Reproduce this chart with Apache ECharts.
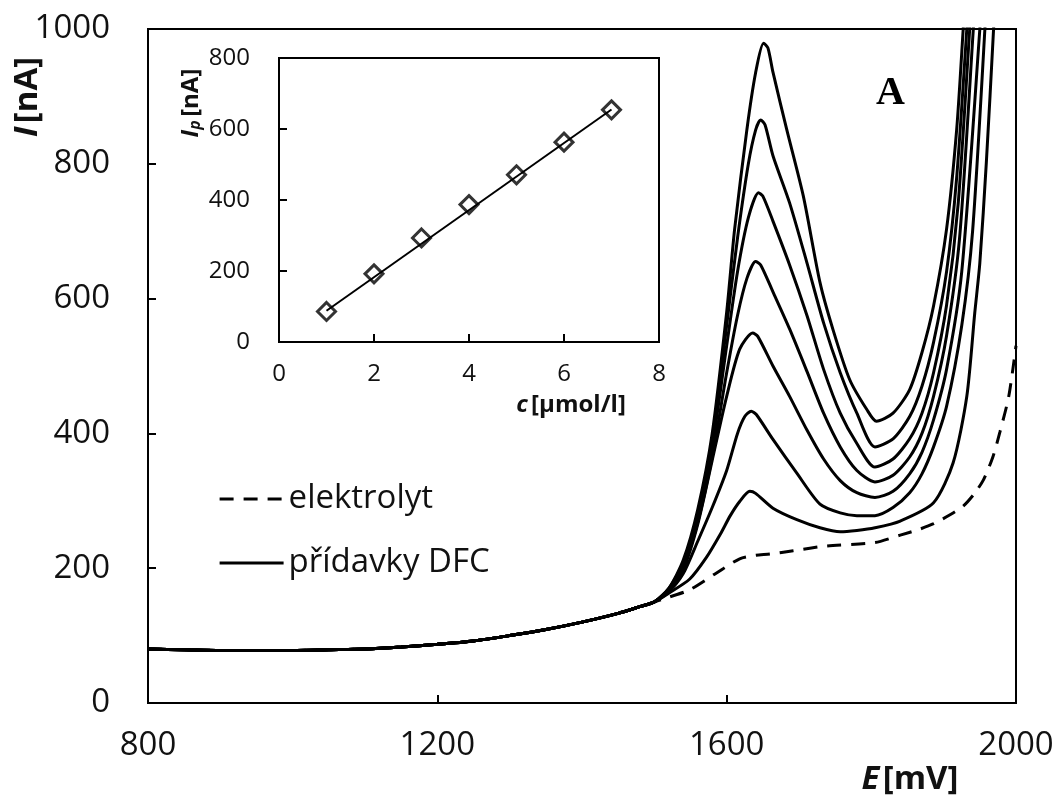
<!DOCTYPE html>
<html><head><meta charset="utf-8">
<script src="https://cdn.jsdelivr.net/npm/echarts@6/dist/echarts.min.js"></script>
<style>html,body{margin:0;padding:0;background:#fff}#c{width:1059px;height:801px}</style>
</head><body><div id="c"></div>
<script>
// ---------- data ----------
// common baseline before the curves split (E [mV], I [nA])
const baseE = [800, 850, 900, 950, 1000, 1050, 1100, 1150, 1200, 1250, 1300, 1350, 1400, 1450, 1480, 1500];
const baseI = [80, 79, 78, 78, 78, 79, 80, 83, 87, 92, 100, 109, 120, 133, 143, 150];

// electrolyte (dashed) after 1500 mV
const elektrolytTail = [[1520,157],[1549,168],[1586,193],[1618,214],[1640,219],[1660,221],[1692,226],[1738,233],[1805,238],[1840,249],[1867,258],[1886,266],[1910,280],[1927,292],[1942,310],[1955,331],[1968,365],[1978,403],[1990,455],[2000,530]];

// DFC additions (solid), highest concentration first, after 1500 mV
const dfc1 = [[1520,170],[1540,212],[1560,287],[1580,400],[1600,580],[1611,703],[1628,851],[1640,935],[1651,979],[1657,972],[1664,936],[1683,851],[1706,752],[1729,624],[1747,554],[1770,480],[1794,435],[1807,418],[1830,430],[1853,465],[1870,520],[1886,589],[1904,703],[1918,851],[1927,1000],[1932,1090]];
const dfc2 = [[1520,170],[1540,208],[1560,280],[1580,390],[1600,560],[1615,690],[1630,800],[1640,850],[1647,865],[1653,858],[1664,812],[1687,742],[1711,653],[1734,564],[1757,490],[1780,430],[1805,380],[1830,392],[1853,425],[1870,470],[1886,535],[1904,640],[1918,780],[1932,1000],[1937,1090]];
const dfc3 = [[1520,168],[1540,205],[1560,275],[1580,380],[1600,530],[1615,640],[1630,720],[1644,757],[1650,752],[1664,715],[1687,650],[1711,575],[1734,495],[1757,430],[1780,385],[1805,350],[1830,362],[1853,392],[1870,430],[1886,490],[1904,590],[1920,740],[1936,1000],[1941,1090]];
const dfc4 = [[1520,167],[1540,202],[1560,268],[1580,365],[1600,490],[1615,575],[1628,630],[1640,655],[1647,650],[1664,610],[1687,555],[1711,492],[1734,430],[1757,380],[1780,345],[1805,328],[1830,338],[1853,365],[1870,400],[1886,455],[1904,545],[1922,690],[1941,1000],[1946,1090]];
const dfc5 = [[1520,166],[1540,198],[1560,265],[1580,360],[1600,455],[1618,525],[1636,549],[1643,544],[1664,500],[1687,455],[1711,405],[1734,362],[1757,330],[1780,312],[1805,305],[1830,314],[1853,340],[1870,372],[1886,420],[1904,495],[1925,640],[1950,1000],[1955,1090]];
const dfc6 = [[1520,165],[1540,192],[1560,240],[1580,290],[1600,345],[1615,400],[1625,425],[1634,433],[1641,428],[1664,391],[1697,341],[1729,295],[1757,282],[1780,278],[1805,278],[1830,290],[1853,312],[1870,340],[1886,380],[1904,440],[1925,560],[1940,700],[1957,1000],[1961,1090]];
const dfc7 = [[1520,163],[1549,184],[1572,216],[1591,250],[1605,278],[1618,299],[1632,314],[1640,311],[1664,289],[1697,272],[1729,260],[1757,254],[1780,256],[1805,260],[1840,270],[1886,297],[1913,356],[1932,455],[1943,579],[1950,653],[1959,802],[1969,1000],[1973,1090]];
const dfcCurves = [dfc1, dfc2, dfc3, dfc4, dfc5, dfc6, dfc7];

// inset calibration
const concC = [1, 2, 3, 4, 5, 6, 7];
const peakIp = [86, 192, 293, 387, 471, 563, 654];
const fitLine = [[1, 88], [7, 655]];

// axis ticks
const mainX = {min: 800, max: 2000, step: 400};
const mainY = {min: 0, max: 1000, step: 200};
const insetX = {min: 0, max: 8, step: 2};
const insetY = {min: 0, max: 800, step: 200};

// ---------- chart ----------
const FONT = '"Open Sans", "Noto Sans", sans-serif';
const base = baseE.map((e, i) => [e, baseI[i]]);
const black = '#000';

function valAxis(ax, gi, fs, margin) {
  return {
    type: 'value', gridIndex: gi, min: ax.min, max: ax.max, interval: ax.step,
    axisLine: {show: true, onZero: false, lineStyle: {color: black, width: 2}},
    axisTick: {show: true, inside: true, length: 8, lineStyle: {color: black, width: 2}},
    splitLine: {show: false},
    axisLabel: {fontSize: fs, color: '#111', fontFamily: FONT, margin: margin, formatter: v => String(v)}
  };
}

const series = [];
series.push({
  name: 'elektrolyt', type: 'line', xAxisIndex: 0, yAxisIndex: 0,
  data: base.concat(elektrolytTail), showSymbol: false, symbol: 'none',
  smooth: 0.25,
  lineStyle: {color: black, width: 3, type: [14, 10]}, itemStyle: {color: black}
});
dfcCurves.forEach(c => series.push({
  name: 'přídavky DFC', type: 'line', xAxisIndex: 0, yAxisIndex: 0,
  data: base.concat(c), showSymbol: false, symbol: 'none',
  smooth: 0.25,
  lineStyle: {color: black, width: 3, type: 'solid'}, itemStyle: {color: black}
}));
series.push({
  type: 'line', xAxisIndex: 1, yAxisIndex: 1, data: fitLine, symbol: 'none',
  lineStyle: {color: black, width: 2}, silent: true
});
series.push({
  type: 'scatter', xAxisIndex: 1, yAxisIndex: 1,
  data: concC.map((c, i) => [c, peakIp[i]]),
  symbol: 'diamond', symbolSize: 18,
  itemStyle: {color: '#fff', borderColor: black, borderWidth: 3}
});

const chart = echarts.init(document.getElementById('c'), null, {renderer: 'canvas'});
chart.setOption({
  animation: false,
  backgroundColor: '#fff',
  grid: [
    {left: 148, right: 43, top: 29, bottom: 98, show: true, borderColor: black, borderWidth: 2, backgroundColor: 'transparent'},
    {left: 279, top: 58, width: 380, height: 284, show: true, borderColor: black, borderWidth: 2, backgroundColor: '#fff'}
  ],
  xAxis: [valAxis(mainX, 0, 33, 26), valAxis(insetX, 1, 24, 20)],
  yAxis: [valAxis(mainY, 0, 33, 38), valAxis(insetY, 1, 24, 29)],
  legend: {
    orient: 'vertical', left: 213, top: 474, itemWidth: 64, itemHeight: 14, itemGap: 24,
    data: ['elektrolyt', 'přídavky DFC'],
    itemStyle: {opacity: 0},
    lineStyle: {width: 3.2},
    textStyle: {fontSize: 33, fontFamily: FONT, color: '#111', lineHeight: 40}
  },
  graphic: [
    {type: 'text', x: 876, y: 74, style: {text: 'A', font: 'bold 40px "Liberation Serif", serif', fill: black}},
    {type: 'text', x: 910, y: 780, style: {
      text: '{i|E} {b|[mV]}', align: 'center', verticalAlign: 'middle',
      rich: {i: {fontFamily: FONT, fontSize: 33, fontWeight: 'bold', fontStyle: 'italic', fill: '#111'},
             b: {fontFamily: FONT, fontSize: 33, fontWeight: 'bold', fill: '#111'}}}},
    {type: 'text', x: 28, y: 97, rotation: Math.PI / 2, style: {
      text: '{i|I} {b|[nA]}', align: 'center', verticalAlign: 'middle',
      rich: {i: {fontFamily: FONT, fontSize: 33, fontWeight: 'bold', fontStyle: 'italic', fill: '#111'},
             b: {fontFamily: FONT, fontSize: 33, fontWeight: 'bold', fill: '#111'}}}},
    {type: 'text', x: 571, y: 405, style: {
      text: '{i|c} {b|[µmol/l]}', align: 'center', verticalAlign: 'middle',
      rich: {i: {fontFamily: FONT, fontSize: 24, fontWeight: 'bold', fontStyle: 'italic', fill: '#111'},
             b: {fontFamily: FONT, fontSize: 24, fontWeight: 'bold', fill: '#111'}}}},
    {type: 'text', x: 188, y: 103, rotation: Math.PI / 2, style: {
      text: '{i|I}{s|p} {b|[nA]}', align: 'center', verticalAlign: 'middle',
      rich: {i: {fontFamily: FONT, fontSize: 24, fontWeight: 'bold', fontStyle: 'italic', fill: '#111', lineHeight: 30, verticalAlign: 'bottom'},
             s: {fontFamily: FONT, fontSize: 16, fontWeight: 'bold', fontStyle: 'italic', fill: '#111', verticalAlign: 'bottom', lineHeight: 20},
             b: {fontFamily: FONT, fontSize: 24, fontWeight: 'bold', fill: '#111', lineHeight: 30, verticalAlign: 'bottom'}}}}
  ],
  series: series
});
</script>
</body></html>
